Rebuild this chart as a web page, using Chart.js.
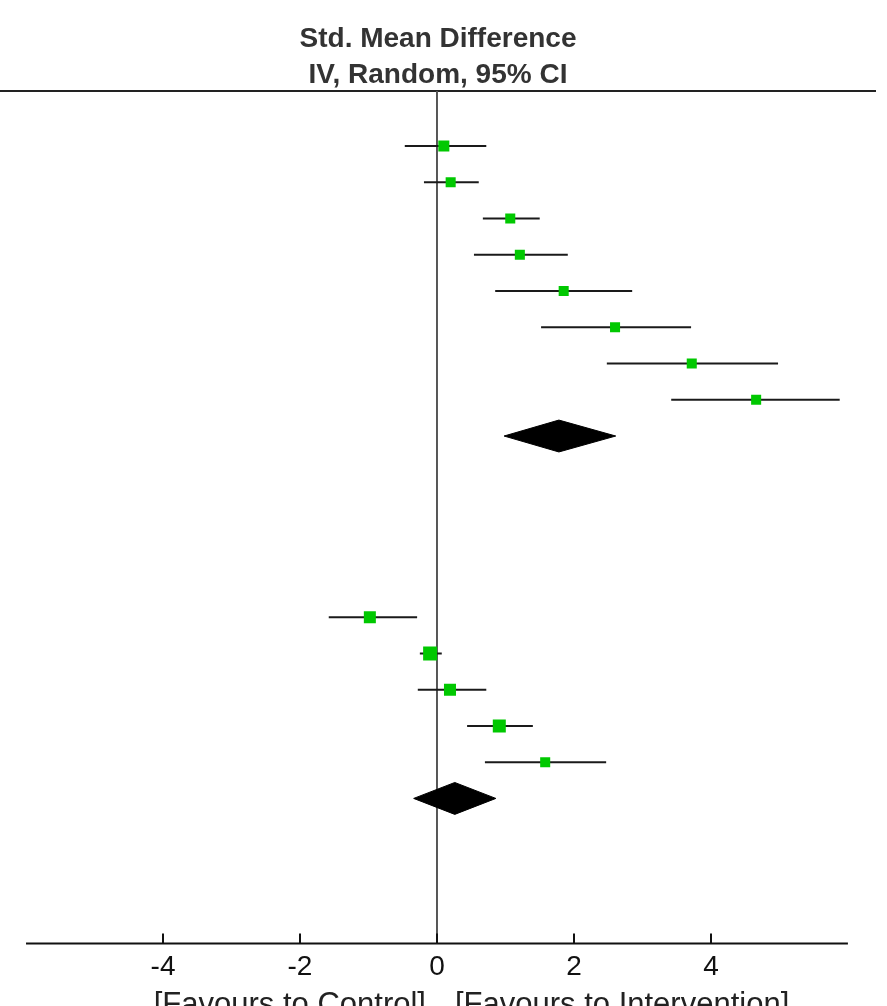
<!DOCTYPE html>
<html>
<head>
<meta charset="utf-8">
<script src="https://cdn.jsdelivr.net/npm/chart.js@4"></script>
<style>
  body { margin: 0; background: #fff; }
  #wrap { width: 887px; height: 1006px; position: relative; }
</style>
</head>
<body>
<div id="wrap"><canvas id="forest"></canvas></div>
<script>
// studies: row position (top to bottom), SMD and 95% CI
const rowPos = [1, 2, 3, 4, 5, 6, 7, 8, 14, 15, 16, 17, 18];
const smd    = [0.10, 0.20, 1.07, 1.21, 1.85, 2.60, 3.72, 4.66, -0.98, -0.10, 0.19, 0.91, 1.58];
const ciLow  = [-0.47, -0.19, 0.67, 0.54, 0.85, 1.52, 2.48, 3.42, -1.58, -0.25, -0.28, 0.44, 0.70];
const ciHigh = [0.72, 0.61, 1.50, 1.91, 2.85, 3.71, 4.98, 5.88, -0.29, 0.07, 0.72, 1.40, 2.47];
const weightBox = [7.8, 7.1, 7.1, 7.1, 7.1, 7.1, 7.1, 7.1, 8.5, 9.9, 8.5, 9.2, 7.1];

// subgroup totals (diamonds)
const pooledRow  = [9, 19];
const pooledEst  = [1.78, 0.26];
const pooledLow  = [0.98, -0.34];
const pooledHigh = [2.61, 0.86];

const tickVals = [-4, -2, 0, 2, 4];
const xMin = -6.38, xMax = 6.41;   // full width of header rule
const axisMin = -6, axisMax = 6;   // drawn x axis line
const yTop = -0.52, yBottom = 23;
const halfH = 0.44;                // diamond half height in rows

var datasets = [];

// green boxes
datasets.push({
    type: "scatter",
    data: smd.map(function (v, i) { return { x: v, y: rowPos[i] }; }),
    pointStyle: "rect",
    pointRadius: weightBox,
    pointHoverRadius: weightBox,
    backgroundColor: "#00c800",
    borderColor: "#00c800",
    borderWidth: 0,
    order: 0
});

// CI whiskers
for (var i = 0; i < rowPos.length; i++) {
    datasets.push({
        type: "line",
        data: [{ x: ciLow[i], y: rowPos[i] }, { x: ciHigh[i], y: rowPos[i] }],
        borderColor: "#1a1a1a",
        borderWidth: 2,
        pointRadius: 0,
        order: 2
    });
}

// diamonds
for (var j = 0; j < pooledRow.length; j++) {
    var r = pooledRow[j];
    datasets.push({
        type: "line",
        data: [
            { x: pooledLow[j], y: r },
            { x: pooledEst[j], y: r - halfH },
            { x: pooledHigh[j], y: r },
            { x: pooledEst[j], y: r + halfH },
            { x: pooledLow[j], y: r }
        ],
        fill: "shape",
        backgroundColor: "#000",
        borderColor: "#000",
        borderWidth: 1,
        pointRadius: 0,
        tension: 0,
        order: 1
    });
}

// line of no effect
datasets.push({
    type: "line",
    data: [{ x: 0, y: yTop }, { x: 0, y: yBottom }],
    borderColor: "#555",
    borderWidth: 2,
    pointRadius: 0,
    order: 3
});
// header rule
datasets.push({
    type: "line",
    data: [{ x: xMin, y: yTop }, { x: xMax, y: yTop }],
    borderColor: "#222",
    borderWidth: 2,
    pointRadius: 0,
    clip: false,
    order: 3
});
// x axis line
datasets.push({
    type: "line",
    data: [{ x: axisMin, y: yBottom }, { x: axisMax, y: yBottom }],
    borderColor: "#111",
    borderWidth: 2,
    pointRadius: 0,
    clip: false,
    order: 3
});

// tick marks point up from the axis, plus the favours labels
const extras = {
    id: "extras",
    afterDatasetsDraw: function (chart) {
        var ctx = chart.ctx;
        var xs = chart.scales.x;
        var bottom = chart.chartArea.bottom;
        ctx.save();
        ctx.strokeStyle = "#111";
        ctx.lineWidth = 2;
        tickVals.forEach(function (v) {
            var px = Math.round(xs.getPixelForValue(v));
            ctx.beginPath();
            ctx.moveTo(px, bottom - 10);
            ctx.lineTo(px, bottom);
            ctx.stroke();
        });
        var zero = xs.getPixelForValue(0);
        ctx.fillStyle = "#222";
        ctx.font = "31px 'Liberation Sans', Arial, sans-serif";
        ctx.textBaseline = "middle";
        ctx.textAlign = "right";
        ctx.fillText("[Favours to Control]", zero - 11, 1005);
        ctx.textAlign = "left";
        ctx.fillText("[Favours to Intervention]", zero + 18, 1005);
        ctx.restore();
    }
};

new Chart("forest", {
    data: { datasets: datasets },
    options: {
        responsive: true,
        maintainAspectRatio: false,
        animation: false,
        layout: { autoPadding: false, padding: { left: 0, right: 11, top: 0, bottom: 15 } },
        plugins: {
            legend: { display: false },
            tooltip: { enabled: false },
            title: {
                display: true,
                text: ["Std. Mean Difference", "IV, Random, 95% CI"],
                color: "#333",
                font: { family: "'Liberation Sans', Arial, sans-serif", size: 28, weight: "bold", lineHeight: 36 / 28 },
                padding: { top: 21, bottom: -2 }
            }
        },
        scales: {
            x: {
                type: "linear",
                min: xMin,
                max: xMax,
                afterBuildTicks: function (scale) {
                    scale.ticks = tickVals.map(function (v) { return { value: v }; });
                },
                afterFit: function (scale) {
                    scale.paddingLeft = 0;
                    scale.paddingRight = 0;
                },
                grid: { display: false, drawTicks: false },
                border: { display: false },
                ticks: {
                    color: "#111",
                    padding: 7,
                    autoSkip: false,
                    maxRotation: 0,
                    font: { family: "'Liberation Sans', Arial, sans-serif", size: 28 }
                }
            },
            y: {
                type: "linear",
                reverse: true,
                min: yTop,
                max: yBottom,
                display: false
            }
        }
    },
    plugins: [extras]
});
</script>
</body>
</html>
